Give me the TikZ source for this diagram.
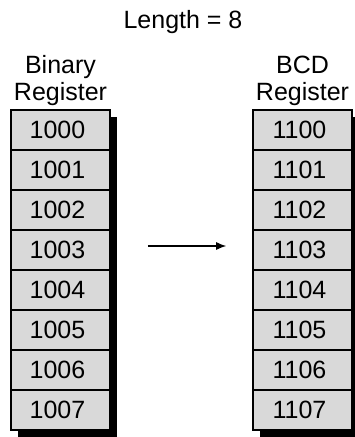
\documentclass[tikz,border=0pt]{standalone}
\usepackage{fontspec}
\setmainfont{Liberation Sans}
\usetikzlibrary{calc, arrows.meta}

\begin{document}
\begin{tikzpicture}[x=1pt, y=-1pt, font=\fontsize{25}{27}\selectfont]

    \useasboundingbox (0,0) rectangle (354,437);

    \tikzset{cell/.style={draw, line width=1.6pt, fill=gray!30, minimum width=99pt, minimum height=40pt, inner sep=0pt}}
    \tikzset{head/.style={align=center, inner sep=0pt}}

    % Title
    \node[anchor=base] (title) at (183,28) {Length = 8};

    % Labels
    \node[head, anchor=base] (binlabel) at (60.5,100) {Binary\\Register};
    \node[head, anchor=base] (bcdlabel) at (302.5,100) {BCD\\Register};

    % Shadows
    \fill (18,117) rectangle (117,437);
    \fill (260,117) rectangle (359,437);

    % Registers
    \foreach \i in {0,...,7} {
        \node[cell] (b\i) at (60.5,130+40*\i) {\hspace{-6pt}100\i};
        \node[cell] (d\i) at (302.5,130+40*\i) {\hspace{-6pt}110\i};
    }

    % Arrow
    \draw[-{Latex[length=10pt, width=8pt]}, line width=1.2pt, shorten <=37pt, shorten >=26pt]
        ([yshift=4pt]b3.east) -- ([yshift=4pt]d3.west);

\end{tikzpicture}
\end{document}
